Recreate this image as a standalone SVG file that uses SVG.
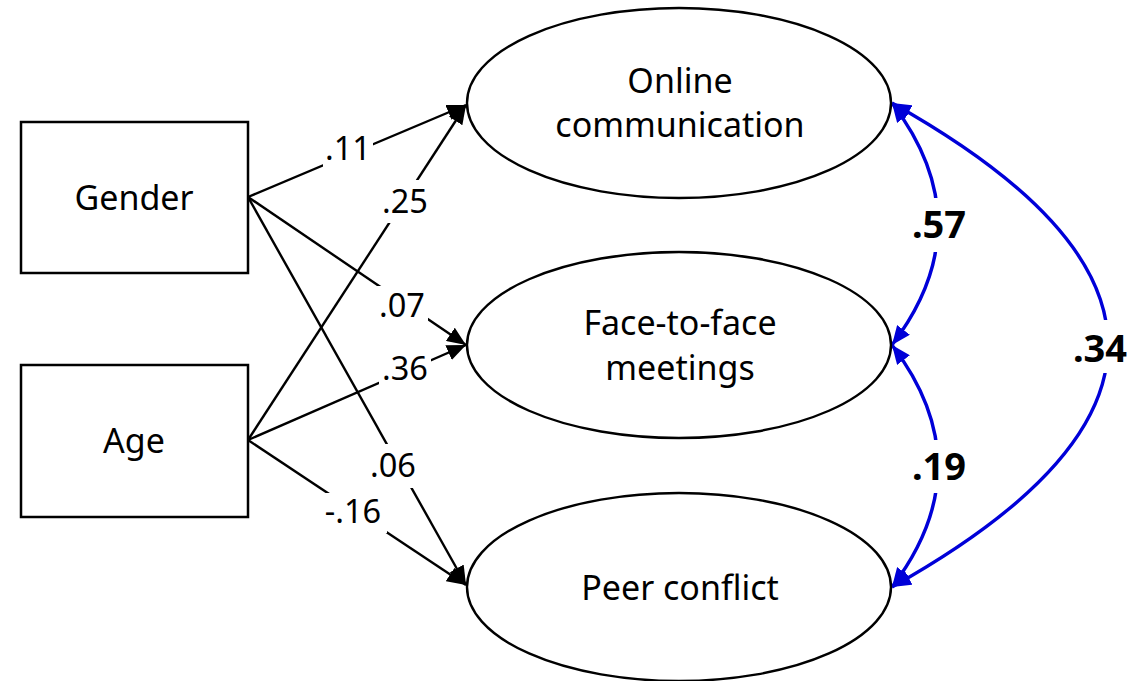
<svg xmlns="http://www.w3.org/2000/svg" width="1146" height="681" viewBox="0 0 1146 681">
  <style>
    .box { fill: #fff; stroke: #000; stroke-width: 2.5; }
    .oval { fill: #fff; stroke: #000; stroke-width: 2.4; }
    .node-text { font-family: "Noto Sans", "Open Sans", sans-serif; font-size: 34px; fill: #000; text-anchor: middle; }
    .path { stroke: #000; stroke-width: 2.4; fill: none; marker-end: url(#arrowBlack); }
    .cov { stroke: #0000d8; stroke-width: 3.4; fill: none; marker-start: url(#arrowBlue); marker-end: url(#arrowBlue); }
    .coef { font-family: "Noto Sans", "Open Sans", sans-serif; font-size: 32.5px; fill: #000; text-anchor: middle; }
    .corr { font-family: "Noto Sans", "Open Sans", sans-serif; font-size: 38px; font-weight: bold; fill: #000; text-anchor: middle; }
    .gap { fill: #fff; stroke: none; }
  </style>
  <defs>
    <marker id="arrowBlack" markerUnits="userSpaceOnUse" markerWidth="20" markerHeight="16" refX="19" refY="8" orient="auto">
      <path d="M0,0 L19,8 L0,16 Z" fill="#000"/>
    </marker>
    <marker id="arrowBlue" markerUnits="userSpaceOnUse" markerWidth="20" markerHeight="16" refX="19" refY="8" orient="auto-start-reverse">
      <path d="M0,0 L19,8 L0,16 Z" fill="#0000d8"/>
    </marker>
  </defs>

  <!-- regression paths and covariances -->
  <g id="connectors">
    <line class="path" x1="248" y1="197" x2="466" y2="105"/>
    <line class="path" x1="248" y1="440" x2="466" y2="105"/>
    <line class="path" x1="248" y1="197" x2="466" y2="345"/>
    <line class="path" x1="248" y1="440" x2="466" y2="345"/>
    <line class="path" x1="248" y1="197" x2="466" y2="585"/>
    <line class="path" x1="248" y1="440" x2="466" y2="585"/>

    <path class="cov" d="M892,103 Q984,224 892,345"/>
    <path class="cov" d="M892,345 Q984,466 892,587"/>
    <path class="cov" d="M892,103 Q1324,345 892,587"/>

    <!-- label backgrounds break the lines -->
    <rect class="gap" x="323" y="128" width="50" height="40"/>
    <rect class="gap" x="381" y="180" width="51" height="43"/>
    <rect class="gap" x="377" y="286" width="51" height="36"/>
    <rect class="gap" x="379" y="350" width="52" height="37"/>
    <rect class="gap" x="368" y="444" width="50" height="44"/>
    <rect class="gap" x="321" y="493" width="66" height="40"/>
    <rect class="gap" x="908" y="198" width="62" height="54"/>
    <rect class="gap" x="908" y="440" width="62" height="53"/>
    <rect class="gap" x="1068" y="320" width="64" height="53"/>

    <text class="coef" x="348" y="160">.11</text>
    <text class="coef" x="405" y="213">.25</text>
    <text class="coef" x="402" y="317">.07</text>
    <text class="coef" x="405" y="380">.36</text>
    <text class="coef" x="393" y="477">.06</text>
    <text class="coef" x="353" y="523">-.16</text>

    <text class="corr" x="939" y="238">.57</text>
    <text class="corr" x="939" y="480">.19</text>
    <text class="corr" x="1100" y="362">.34</text>
  </g>

  <g id="gender">
    <rect class="box" x="21" y="122" width="227" height="151"/>
    <text class="node-text" x="134" y="210">Gender</text>
  </g>
  <g id="age">
    <rect class="box" x="21" y="365" width="227" height="152"/>
    <text class="node-text" x="134" y="453">Age</text>
  </g>

  <g id="online-communication">
    <ellipse class="oval" cx="679" cy="103" rx="212" ry="95"/>
    <text class="node-text" x="680" y="93">Online</text>
    <text class="node-text" x="680" y="137">communication</text>
  </g>
  <g id="face-to-face">
    <ellipse class="oval" cx="679" cy="345" rx="212" ry="93"/>
    <text class="node-text" x="680" y="335">Face-to-face</text>
    <text class="node-text" x="680" y="380">meetings</text>
  </g>
  <g id="peer-conflict">
    <ellipse class="oval" cx="679" cy="587" rx="212" ry="94"/>
    <text class="node-text" x="680" y="600">Peer conflict</text>
  </g>
</svg>
